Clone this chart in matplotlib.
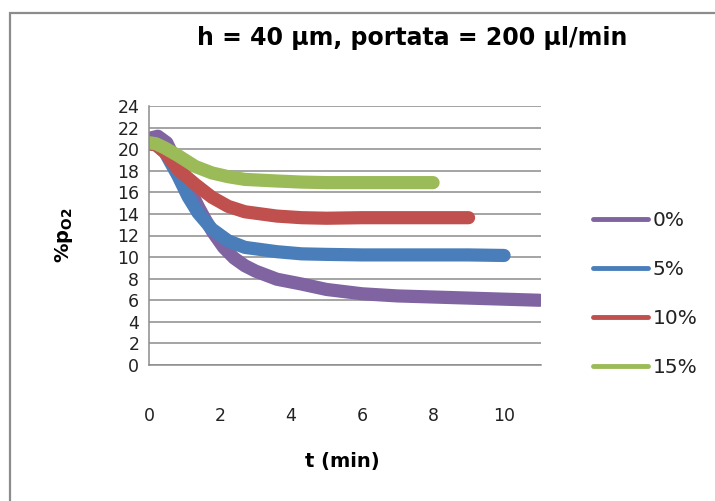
#!/usr/bin/env python3
"""O2 partial pressure vs time, h = 40 um, flow 200 ul/min."""

import matplotlib

matplotlib.use("Agg")

import matplotlib.pyplot as plt
from matplotlib.patches import Rectangle

plt.rcParams["font.family"] = ["DejaVu Sans"]
plt.rcParams["mathtext.fontset"] = "dejavusans"

# (centre of each noisy band)
t_0 = [0.0, 0.25, 0.5, 0.8, 1.1, 1.4, 1.6, 1.8, 2.1, 2.4, 2.7, 3.0, 3.6, 4.3, 5.0, 6.0, 7.0, 8.0, 9.0, 10.0, 11.0]
p_0 = [21.0, 21.2, 20.6, 18.6, 16.6, 14.6, 13.4, 12.3, 10.9, 9.9, 9.2, 8.7, 7.95, 7.5, 7.0, 6.6, 6.4, 6.3, 6.2, 6.1, 6.0]

t_5 = [0.0, 0.2, 0.45, 0.82, 1.1, 1.38, 1.77, 2.23, 2.7, 3.6, 4.3, 5.0, 6.0, 7.0, 8.0, 9.0, 10.0]
p_5 = [20.5, 20.4, 19.7, 17.5, 15.6, 14.1, 12.6, 11.5, 10.9, 10.5, 10.3, 10.25, 10.2, 10.2, 10.2, 10.2, 10.15]

t_10 = [0.0, 0.2, 0.45, 0.82, 1.3, 1.77, 2.23, 2.7, 3.6, 4.3, 5.0, 6.0, 7.0, 8.0, 9.0]
p_10 = [20.5, 20.4, 19.7, 18.1, 16.75, 15.55, 14.7, 14.2, 13.8, 13.65, 13.6, 13.65, 13.65, 13.65, 13.65]

t_15 = [0.0, 0.2, 0.45, 0.82, 1.3, 1.77, 2.23, 2.7, 3.6, 4.3, 5.0, 6.0, 7.0, 8.0]
p_15 = [20.6, 20.5, 20.1, 19.4, 18.4, 17.8, 17.45, 17.2, 17.05, 16.95, 16.9, 16.9, 16.9, 16.9]

labels = ["0%", "5%", "10%", "15%"]
colors = ["#8064A2", "#4A7EBB", "#C0504D", "#9BBB59"]
series = [(t_0, p_0), (t_5, p_5), (t_10, p_10), (t_15, p_15)]

title = "h = 40 \u00b5m, portata = 200 \u00b5l/min"

fig = plt.figure(figsize=(7.15, 5.01), dpi=100)
fig.patches.append(Rectangle((10 / 715, -0.05), 1.0, 1 - 13 / 501 + 0.05,
                             transform=fig.transFigure, fill=False,
                             edgecolor="#8c8c8c", linewidth=1.6))

ax = fig.add_axes([149 / 715, 1 - 365 / 501, 392 / 715, 259 / 501])

for (t, p), lab, col in zip(series, labels, colors):
    ax.plot(t, p, color=col, linewidth=9.5, solid_capstyle="round",
            solid_joinstyle="round", label=lab)

ax.set_xlim(0, 11.04)
ax.set_ylim(0, 24)
ax.set_xticks(range(0, 11, 2))
ax.set_yticks(range(0, 25, 2))
ax.yaxis.grid(True, color="#8c8c8c", linewidth=1.1)
ax.set_axisbelow(True)
for side in ("top", "right"):
    ax.spines[side].set_visible(False)
for side in ("left", "bottom"):
    ax.spines[side].set_color("#8c8c8c")
    ax.spines[side].set_linewidth(1.1)
ax.tick_params(axis="both", length=0, labelsize=12.5, colors="#222222")
ax.tick_params(axis="x", pad=30)
ax.tick_params(axis="y", pad=7)

ax.set_xlabel("t (min)", fontsize=14, fontweight="bold")
ax.xaxis.set_label_coords(0.492, -0.336)
ax.set_ylabel(r"%p$_{\mathbf{O2}}$", fontsize=14, fontweight="bold")
ax.yaxis.set_label_coords(-0.19, 0.5)

fig.text(412 / 715, 1 - 45 / 501, title, fontsize=17, fontweight="bold",
         ha="center", va="baseline")

leg = ax.legend(loc="center left", bbox_to_anchor=(575 / 715, 1 - 294 / 501),
                bbox_transform=fig.transFigure, frameon=False, fontsize=14.5,
                handlelength=2.74, handletextpad=0.2, labelspacing=1.5)
for text in leg.get_texts():
    text.set_color("#222222")
for line in leg.get_lines():
    line.set_linewidth(3.5)

fig.savefig("out.png", dpi=100)
